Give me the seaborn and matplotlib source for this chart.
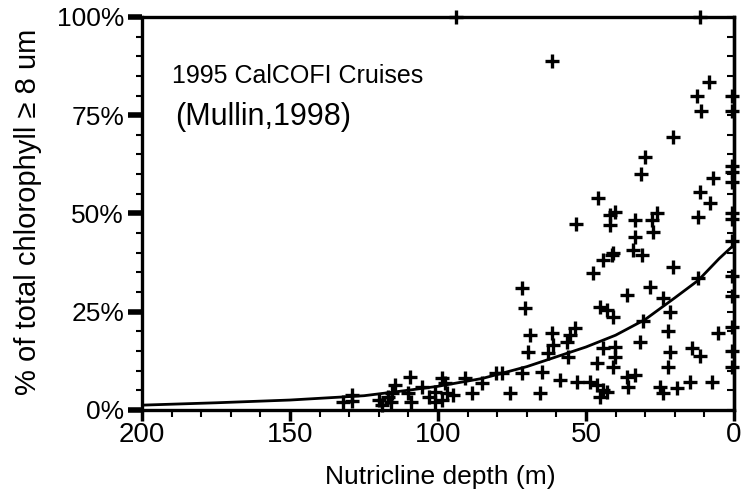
import numpy as np
import pandas as pd
import seaborn as sns
import matplotlib.pyplot as plt
from matplotlib.ticker import MultipleLocator, PercentFormatter

# nutricline depth (m) and % of chlorophyll >= 8 um
depth = [132, 129, 129, 120, 119, 117, 116, 114.5, 115.5, 109.5, 110, 109,
         105.5, 103, 101, 101, 97.5, 98.5, 97, 98.5, 95, 91, 88.5, 85,
         80.5, 78.4, 75.7, 71.6, 71.6, 70.6, 69, 69.6, 65.5, 64.9, 62.8,
         61.1, 61.5, 61.5, 58.8, 56.4, 56.1, 55.4, 53.7, 53, 53.4, 48.6,
         47.6, 46.3, 46.3, 46, 45.3, 44.3, 43, 44.3, 44.3, 45.3, 42.9,
         41.9, 40.2, 41.9, 41.2, 40.8, 40.9, 40.2, 40.2, 40.9, 36.1, 36.1,
         35.8, 34, 33.4, 33.4, 33.4, 31.8, 31, 31.4, 30, 30.7, 28.4, 27.7,
         27.4, 26, 25, 24, 24, 22.3, 22.3, 21.6, 21.6, 20.6, 20.6, 19.3,
         14.9, 14.2, 12.5, 12.2, 12.2, 11.5, 11.5, 11.5, 11.1, 8.4, 8.1,
         7.4, 7.1, 5.4, 94,
         0.5, 0.5, 0.5, 0.5, 0.5, 0.5, 0.5, 0.5, 0.5, 0.5, 0.5, 0.5, 0.5]
pct = [2.0, 2.2, 3.8, 2.5, 1.3, 3.3, 2.0, 6.4, 4.3, 8.4, 4.3, 2.0,
       5.9, 3.3, 4.6, 2.0, 6.9, 8.1, 4.3, 2.5, 3.8, 8.1, 4.3, 6.9,
       9.4, 9.4, 4.3, 9.4, 31, 26, 19, 14.8, 4.3, 9.7, 14.5,
       16.5, 19.5, 88.8, 7.6, 17.3, 13.5, 19, 20.8, 7.1, 47.3, 7.1,
       34.8, 6.4, 12, 54, 3.3, 5.1, 4.6, 15.7, 38.2, 26.2, 25.4,
       49.6, 50.4, 47, 39.4, 40, 23.7, 16, 13.5, 11, 29.3, 8.4,
       5.9, 40.7, 44, 48.3, 8.9, 17.3, 39.4, 60, 64.4, 22.5, 31.3, 48.3,
       45.3, 50, 5.9, 4.3, 28.5, 20, 11, 25, 14.7, 36.4, 69.5, 5.6,
       7.1, 15.7, 80, 49.1, 33.6, 55.5, 13.6, 100, 76, 83.5, 52.7,
       7.1, 59, 19.5, 100,
       80, 76, 62, 60.5, 58, 50, 48.5, 43, 34, 29, 21, 15, 11]

# fitted curve
fit_depth = [200, 175, 150, 125, 110, 100, 85, 70, 60, 50, 40, 30, 20, 12, 5, 0]
fit_pct = [1.2, 1.8, 2.5, 3.6, 5.0, 6.0, 8.0, 11.0, 13.5, 16.0, 19.0, 23.0,
           28.5, 33.0, 38.5, 42.0]

sns.set_theme(style='ticks')
plt.rcParams['font.family'] = ['Liberation Sans', 'DejaVu Sans']

fig = plt.figure(figsize=(7.52, 4.98), dpi=100)
ax = fig.add_axes([0.189, 0.177, 0.787, 0.789])

df = pd.DataFrame({'depth': depth, 'pct': pct})
sns.scatterplot(data=df, x='depth', y='pct', marker='+', s=90, color='black',
                linewidth=2.4, ax=ax, clip_on=False, zorder=3)
sns.lineplot(x=fit_depth, y=fit_pct, color='black', lw=2, ax=ax, sort=False)

ax.set_xlim(200, 0)
ax.set_ylim(0, 100)
ax.xaxis.set_major_locator(MultipleLocator(50))
ax.xaxis.set_minor_locator(MultipleLocator(10))
ax.yaxis.set_major_locator(MultipleLocator(25))
ax.yaxis.set_minor_locator(MultipleLocator(5))
ax.yaxis.set_major_formatter(PercentFormatter(decimals=0))

for s in ax.spines.values():
    s.set_linewidth(2.4)
    s.set_color('black')
ax.tick_params(axis='y', which='major', length=10, width=4, labelsize=19,
               colors='black', pad=3)
ax.tick_params(axis='y', which='minor', length=4, width=1.5, colors='black')
ax.tick_params(axis='x', which='major', length=8, width=2.5, labelsize=20,
               colors='black', pad=1)
ax.tick_params(axis='x', which='minor', length=5, width=1.5, colors='black')

# inward ticks along the right spine
right = ax.secondary_yaxis('right')
right.yaxis.set_major_locator(MultipleLocator(5))
right.tick_params(direction='in', length=5, width=1.5, labelright=False,
                  colors='black')
right.spines['right'].set_linewidth(2.4)

ax.set_xlabel('Nutricline depth (m)', fontsize=19, color='black')
ax.set_ylabel('% of total chlorophyll \u2265 8 um', fontsize=21, color='black')
ax.xaxis.set_label_coords(0.503, -0.14)
ax.yaxis.set_label_coords(-0.17, 0.505)

ax.text(190, 85, '1995 CalCOFI Cruises', fontsize=18, va='center', color='black')
ax.text(189, 74.5, '(Mullin,1998)', fontsize=22, va='center', color='black')

fig.savefig('out.png', dpi=100)
